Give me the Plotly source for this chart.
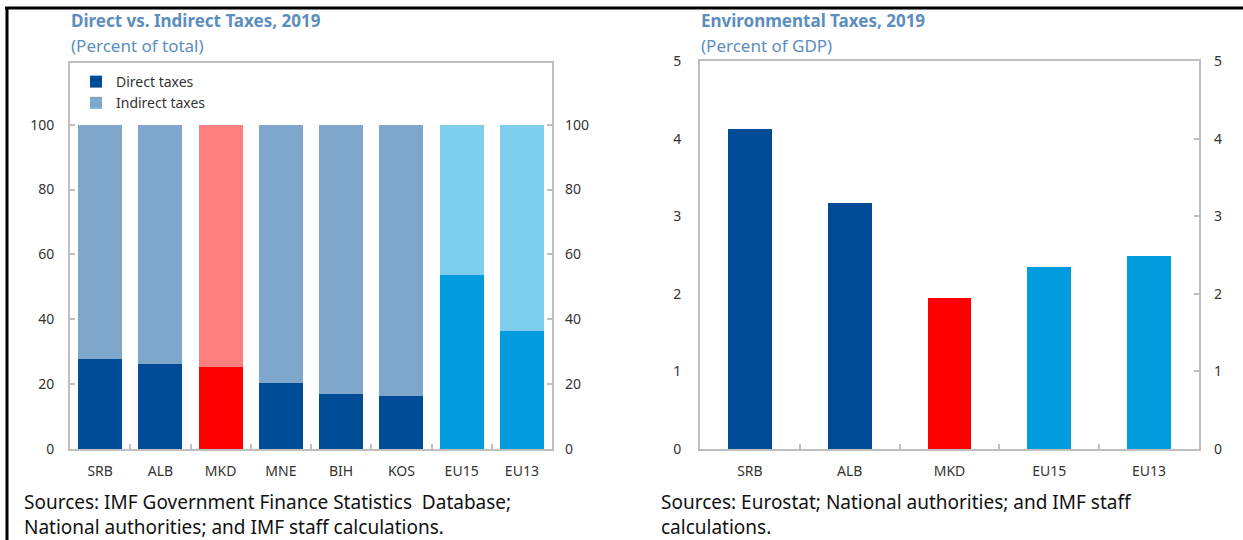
import plotly.graph_objects as go

W, H = 1243, 540

# ---- data ----
left_categories = ["SRB", "ALB", "MKD", "MNE", "BIH", "KOS", "EU15", "EU13"]
direct_taxes = [27.8, 26.2, 25.2, 20.4, 17.1, 16.2, 53.5, 36.5]
indirect_taxes = [72.2, 73.8, 74.8, 79.6, 82.9, 83.8, 46.5, 63.5]
direct_colors = ["#004C97", "#004C97", "#FF0000", "#004C97", "#004C97", "#004C97", "#009CDE", "#009CDE"]
indirect_colors = ["#7FA6CB", "#7FA6CB", "#FF7F7F", "#7FA6CB", "#7FA6CB", "#7FA6CB", "#7FCDEE", "#7FCDEE"]

right_categories = ["SRB", "ALB", "MKD", "EU15", "EU13"]
env_taxes = [4.12, 3.17, 1.94, 2.35, 2.49]
env_colors = ["#004C97", "#004C97", "#FF0000", "#009CDE", "#009CDE"]

left_ticks = [0, 20, 40, 60, 80, 100]
right_ticks = [0, 1, 2, 3, 4, 5]

FONT = "Noto Sans"
TXT = "#333333"
GRID = "#BFBFBF"
TITLE_C = "#5B8DBE"


def px(x):
    return x / W


def py(y):
    return 1 - y / H


fig = go.Figure()

fig.add_trace(go.Bar(x=left_categories, y=direct_taxes, name="Direct taxes",
                     marker=dict(color=direct_colors, line=dict(width=0)),
                     xaxis="x", yaxis="y"))
fig.add_trace(go.Bar(x=left_categories, y=indirect_taxes, name="Indirect taxes",
                     marker=dict(color=indirect_colors, line=dict(width=0)),
                     xaxis="x", yaxis="y"))
fig.add_trace(go.Scatter(x=left_categories, y=direct_taxes, mode="markers",
                         marker=dict(opacity=0), showlegend=False, hoverinfo="skip",
                         xaxis="x", yaxis="y3"))

fig.add_trace(go.Bar(x=right_categories, y=env_taxes, name="Environmental taxes",
                     width=0.44,
                     marker=dict(color=env_colors, line=dict(width=0)),
                     showlegend=False, xaxis="x2", yaxis="y2"))
fig.add_trace(go.Scatter(x=right_categories, y=env_taxes, mode="markers",
                         marker=dict(opacity=0), showlegend=False, hoverinfo="skip",
                         xaxis="x2", yaxis="y4"))

tickfont = dict(family=FONT, size=14, color=TXT)

xcommon = dict(type="category", showline=True, linecolor=GRID, linewidth=2, mirror=True,
               ticks="inside", tickson="boundaries", ticklen=5, tickcolor=GRID, tickwidth=2,
               showgrid=False, zeroline=False, tickfont=tickfont, ticklabelstandoff=8,
               layer="above traces", fixedrange=True, automargin=False)

fig.update_layout(
    width=W, height=H,
    margin=dict(l=0, r=0, t=0, b=0, autoexpand=False),
    paper_bgcolor="white", plot_bgcolor="white",
    barmode="stack",
    bargap=0.27,
    font=dict(family=FONT, color=TXT),
    xaxis=dict(domain=[px(70), px(552)], anchor="y", **xcommon),
    yaxis=dict(domain=[py(449), py(63)], anchor="x", range=[0, 119],
               tickvals=left_ticks, showgrid=False, zeroline=False,
               showline=True, linecolor=GRID, linewidth=2, mirror=True,
               ticks="inside", ticklen=5, tickcolor=GRID, tickwidth=2,
               tickfont=tickfont, ticklabelstandoff=11, automargin=False),
    yaxis3=dict(overlaying="y", side="right", anchor="x", range=[0, 119],
                tickvals=left_ticks, showgrid=False, zeroline=False, showline=False,
                ticks="inside", ticklen=5, tickcolor=GRID, tickwidth=2,
                tickfont=tickfont, ticklabelstandoff=12, automargin=False),
    xaxis2=dict(domain=[px(700), px(1199)], anchor="y2", **xcommon),
    yaxis2=dict(domain=[py(449), py(61)], anchor="x2", range=[0, 5],
                tickvals=right_ticks, showgrid=False, zeroline=False,
                showline=True, linecolor=GRID, linewidth=2, mirror=True,
                ticks="", tickfont=tickfont, ticklabelstandoff=14, automargin=False),
    yaxis4=dict(overlaying="y2", side="right", anchor="x2", range=[0, 5],
                tickvals=right_ticks, showgrid=False, zeroline=False, showline=False,
                ticks="inside", ticklen=5, tickcolor=GRID, tickwidth=2,
                tickfont=tickfont, ticklabelstandoff=14, automargin=False),
    legend=dict(x=px(76), y=py(66), xanchor="left", yanchor="top",
                traceorder="normal",
                bgcolor="rgba(0,0,0,0)", font=dict(family=FONT, size=14, color=TXT),
                itemwidth=30, tracegroupgap=0),
    showlegend=True,
)

anns = []
for text, x, y in [
    ("<b>Direct vs. Indirect Taxes, 2019</b>", 69, 21),
    ("(Percent of total)", 69, 45),
    ("<b>Environmental Taxes, 2019</b>", 699, 21),
    ("(Percent of GDP)", 699, 45),
]:
    anns.append(dict(text=text, x=px(x), y=py(y), xref="paper", yref="paper",
                     xanchor="left", yanchor="middle", showarrow=False,
                     font=dict(family=FONT, size=17, color=TITLE_C)))

src_font = dict(family=FONT, size=19, color="#111111")
anns.append(dict(text="Sources: IMF Government Finance Statistics  Database;<br>National authorities; and IMF staff calculations.",
                 x=px(22), y=py(487), xref="paper", yref="paper", xanchor="left", yanchor="top",
                 align="left", showarrow=False, font=src_font))
anns.append(dict(text="Sources: Eurostat; National authorities; and IMF staff<br>calculations.",
                 x=px(659), y=py(487), xref="paper", yref="paper", xanchor="left", yanchor="top",
                 align="left", showarrow=False, font=src_font))
fig.update_layout(annotations=anns)

fig.add_shape(type="line", xref="paper", yref="paper", x0=px(5), x1=1, y0=py(8), y1=py(8),
              line=dict(color="black", width=3))
fig.add_shape(type="line", xref="paper", yref="paper", x0=px(7), x1=px(7), y0=py(8), y1=0,
              line=dict(color="black", width=3))

fig.write_html(
    "out.html",
    config={"displayModeBar": False},
    post_script="document.body.style.margin='0';document.body.style.overflow='hidden';",
)
